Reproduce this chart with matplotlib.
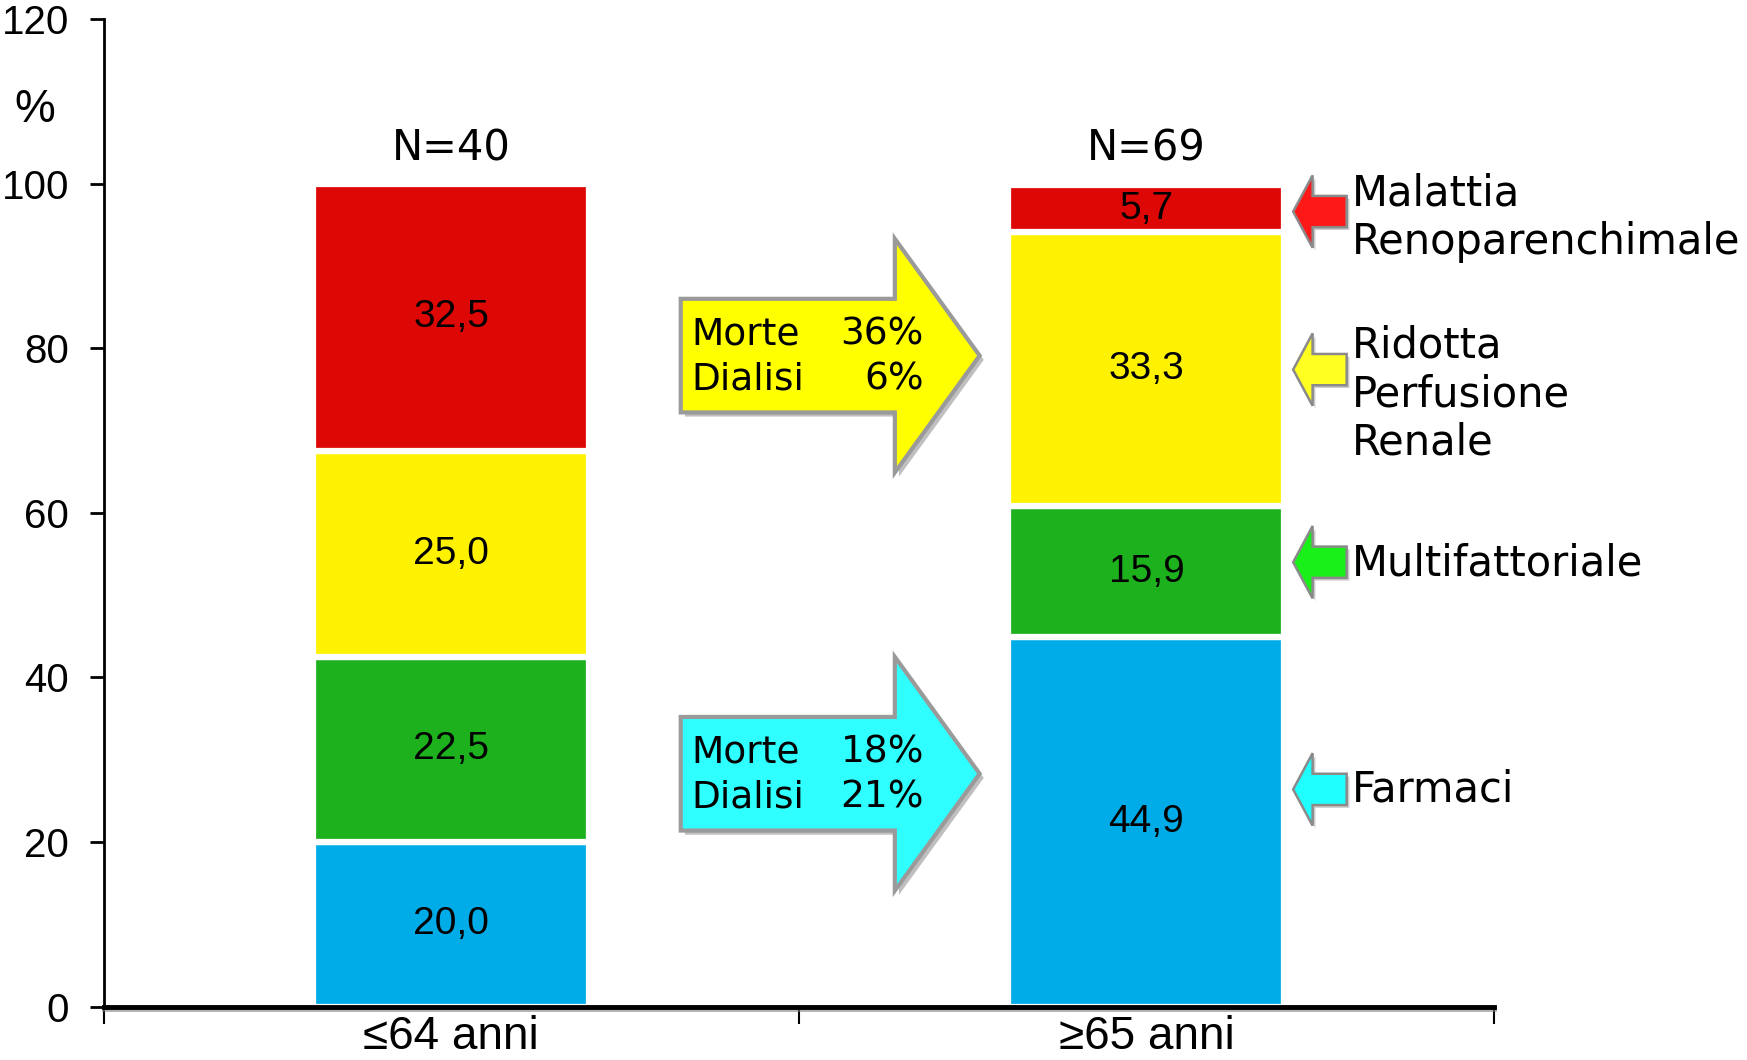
import matplotlib
matplotlib.use("Agg")
import matplotlib.pyplot as plt
from matplotlib.patches import Polygon
import matplotlib.patheffects as pe

# data
groups = ["≤64 anni", "≥65 anni"]
n_labels = ["N=40", "N=69"]
causes = ["Farmaci", "Multifattoriale", "Ridotta\nPerfusione\nRenale",
          "Malattia\nRenoparenchimale"]
young = [20.0, 22.5, 25.0, 32.5]
old = [44.9, 15.9, 33.3, 5.7]
outcome_young = [("Morte", "36%"), ("Dialisi", "6%")]
outcome_old = [("Morte", "18%"), ("Dialisi", "21%")]

bar_colors = ["#00ACE8", "#1DB11D", "#FFF200", "#DD0805"]
arrow_colors = ["#20FFFF", "#19F019", "#FFFF22", "#FF1818"]

NARROW = ["Liberation Sans", "DejaVu Sans"]
WIDE = ["DejaVu Sans"]

fig = plt.figure(figsize=(17.47, 10.60), dpi=100)
ax = fig.add_axes([0.0594, 0.0503, 0.7958, 0.9318])

x = [0, 1]
bw = 0.397
bottoms = [0, 0]
for i in range(len(causes)):
    vals = [young[i], old[i]]
    ax.bar(x, vals, bw, bottom=bottoms, color=bar_colors[i],
           edgecolor="white", linewidth=4.5, zorder=2)
    for xi, v, b in zip(x, vals, bottoms):
        ax.text(xi, b + v / 2, f"{v:.1f}".replace(".", ","), ha="center",
                va="center", fontsize=28, family=NARROW, zorder=3)
    bottoms = [b + v for b, v in zip(bottoms, vals)]

for xi, lab in zip(x, n_labels):
    ax.text(xi, 104.3, lab, ha="center", va="center", fontsize=30, family=WIDE)

ax.text(-0.6, 109.0, "%", ha="center", va="center", fontsize=33,
        family=NARROW, clip_on=False)

ax.set_xlim(-0.5, 1.5)
ax.set_ylim(0, 120)
ax.set_yticks(range(0, 121, 20))
ax.set_yticklabels([str(t) for t in range(0, 121, 20)], family=NARROW, fontsize=29)
ax.tick_params(axis="y", length=10, width=2, pad=15, direction="out")
ax.set_xticks(x)
ax.set_xticklabels(groups, family=NARROW, fontsize=33)
ax.set_xticks([-0.5, 0.5, 1.5], minor=True)
ax.tick_params(axis="x", which="major", length=0, pad=6)
ax.tick_params(axis="x", which="minor", length=12, width=1.5, direction="out")
for s in ["top", "right"]:
    ax.spines[s].set_visible(False)
ax.spines["left"].set_linewidth(2)
ax.spines["bottom"].set_linewidth(3.5)
ax.spines["bottom"].set_path_effects(
    [pe.SimpleLineShadow(offset=(0, -2), shadow_color="grey", alpha=0.6), pe.Normal()])


# big right arrows between the two bars
def big_arrow(yc, color):
    x0, xb, xt = 0.330, 0.638, 0.760
    body, head = 6.9, 14.2
    pts = [(x0, yc + body), (xb, yc + body), (xb, yc + head), (xt, yc),
           (xb, yc - head), (xb, yc - body), (x0, yc - body)]
    p = Polygon(pts, closed=True, facecolor=color, edgecolor="#9A9A9A",
                linewidth=3, zorder=4, clip_on=False)
    p.set_path_effects([pe.SimplePatchShadow(offset=(3, -3), shadow_rgbFace="grey",
                                             alpha=0.5), pe.Normal()])
    ax.add_patch(p)


def arrow_text(ytop, rows):
    for k, (lab, pct) in enumerate(rows):
        yy = ytop - k * 5.5
        ax.text(0.345, yy, lab, ha="left", va="center", fontsize=27,
                family=WIDE, zorder=5)
        ax.text(0.680, yy, pct, ha="right", va="center", fontsize=27,
                family=WIDE, zorder=5)


big_arrow(79.1, "#FFFF00")
arrow_text(81.7, outcome_young)
big_arrow(28.3, "#30FFFF")
arrow_text(30.9, outcome_old)


# small legend arrows on the right
def small_arrow(yc, color):
    xt, xb, xe = 1.211, 1.239, 1.288
    body, head = 1.9, 4.4
    pts = [(xt, yc), (xb, yc + head), (xb, yc + body), (xe, yc + body),
           (xe, yc - body), (xb, yc - body), (xb, yc - head)]
    p = Polygon(pts, closed=True, facecolor=color, edgecolor="#8A8A8A",
                linewidth=1.8, zorder=4, clip_on=False)
    p.set_path_effects([pe.SimplePatchShadow(offset=(2, -2), shadow_rgbFace="grey",
                                             alpha=0.4), pe.Normal()])
    ax.add_patch(p)


arrow_y = [26.4, 54.0, 77.4, 96.6]
text_y = [26.4, 53.9, 74.4, 95.8]
for cause, col, ay, ty in zip(causes, arrow_colors, arrow_y, text_y):
    small_arrow(ay, col)
    ax.text(1.295, ty, cause, ha="left", va="center", fontsize=30,
            family=WIDE, linespacing=1.2, clip_on=False)

fig.savefig("out.png", dpi=100)
